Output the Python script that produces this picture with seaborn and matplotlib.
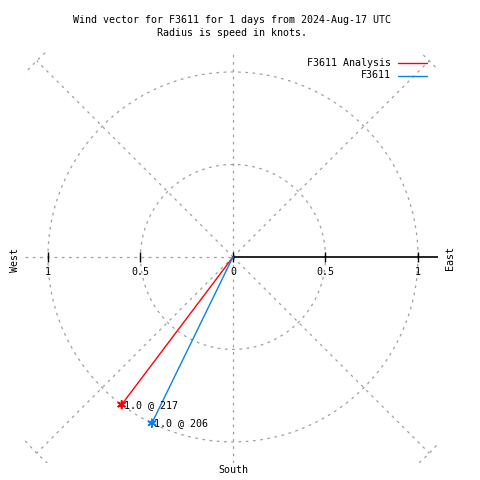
import numpy as np
import pandas as pd
import matplotlib
matplotlib.use("Agg")
import matplotlib.pyplot as plt
import seaborn as sns

# ---- data ----
series = ["F3611 Analysis", "F3611"]
speeds = [1.0, 1.0]          # knots
directions = [217, 206]      # degrees
colors = ["#ff0000", "#0b80f0"]
title_lines = ["Wind vector for F3611 for 1 days from 2024-Aug-17 UTC",
               "Radius is speed in knots."]
tick_values = [-1, -0.5, 0, 0.5, 1]
tick_labels = ["1", "0.5", "0", "0.5", "1"]
ring_radii = [0.5, 1.0, 1.5]
spoke_angles = [45, 135, 225, 315]

sns.set_style("white")
plt.rcParams["font.family"] = ["DejaVu Sans Mono", "DejaVu Sans"]
plt.rcParams["text.color"] = "black"
FS = 7.2

rows = []
for name, s, d in zip(series, speeds, directions):
    rad = np.deg2rad(d)
    rows.append({"series": name, "x": 0.0, "y": 0.0, "order": 0})
    rows.append({"series": name, "x": s * np.sin(rad), "y": s * np.cos(rad), "order": 1})
df = pd.DataFrame(rows)
ends = df[df["order"] == 1].copy()

fig = plt.figure(figsize=(4.8, 4.8), dpi=100)
ax = fig.add_axes([25 / 480, 17 / 480, 413 / 480, 411 / 480])
xl, xr = -1.124, 1.108
yb, yt = -1.114, 1.108
ax.set_xlim(xl, xr)
ax.set_ylim(yb, yt)
ax.set_axis_off()

grid_kw = dict(color="#a0a0a0", lw=0.9, ls=(0, (2.2, 3.6)), zorder=1)
# rings
th = np.linspace(0, 2 * np.pi, 721)
for r in ring_radii:
    ax.plot(r * np.cos(th), r * np.sin(th), **grid_kw)
# spokes
for a in spoke_angles:
    ra = np.deg2rad(a)
    ax.plot([0, 1.5 * np.cos(ra)], [0, 1.5 * np.sin(ra)], **grid_kw)
ax.plot([0, 0], [yb, yt], **grid_kw)
ax.plot([xl, 0], [0, 0], **grid_kw)
# solid axis on positive x
ax.plot([0, xr], [0, 0], color="black", lw=1.2, zorder=2)
ax.plot(tick_values, [0] * len(tick_values), ls="none", marker="|",
        ms=7, mew=1.0, color="black", zorder=2)
for v, lab in zip(tick_values, tick_labels):
    ax.text(v, -0.081, lab, ha="center", va="center", fontsize=FS,
            color="black", zorder=3)

# vectors
palette = dict(zip(series, colors))
sns.lineplot(data=df, x="x", y="y", hue="series", units="series",
             estimator=None, sort=False, palette=palette, lw=1.0,
             legend=False, ax=ax, zorder=4)
sns.scatterplot(data=ends, x="x", y="y", hue="series", palette=palette,
                marker=(6, 2, 0), s=30, linewidth=1.2, legend=False,
                ax=ax, zorder=5)
for (_, row), s, d in zip(ends.iterrows(), speeds, directions):
    ax.text(row["x"] + 0.012, row["y"], f"{s:.1f} @ {d}", ha="left",
            va="center", fontsize=FS, color="black", zorder=6)
ax.set_xlabel("")
ax.set_ylabel("")

# titles and labels (figure pixel coords)
def ftext(x, y, s, **kw):
    fig.text(x / 480, 1 - y / 480, s, fontsize=FS, color="black", **kw)

ftext(232, 20, title_lines[0], ha="center", va="center")
ftext(232, 33, title_lines[1], ha="center", va="center")
ftext(15, 260, "West", ha="center", va="center", rotation=90)
ftext(450, 258, "East", ha="center", va="center", rotation=90)
ftext(233, 470, "South", ha="center", va="center")

# legend
for i, (name, c) in enumerate(zip(series, colors)):
    y = 63 + 12.5 * i
    ftext(391, y, name, ha="right", va="center")
    fig.add_artist(plt.Line2D([398 / 480, 427 / 480], [1 - y / 480, 1 - y / 480],
                              color=c, lw=1.0))

fig.savefig("out.png", dpi=100)
